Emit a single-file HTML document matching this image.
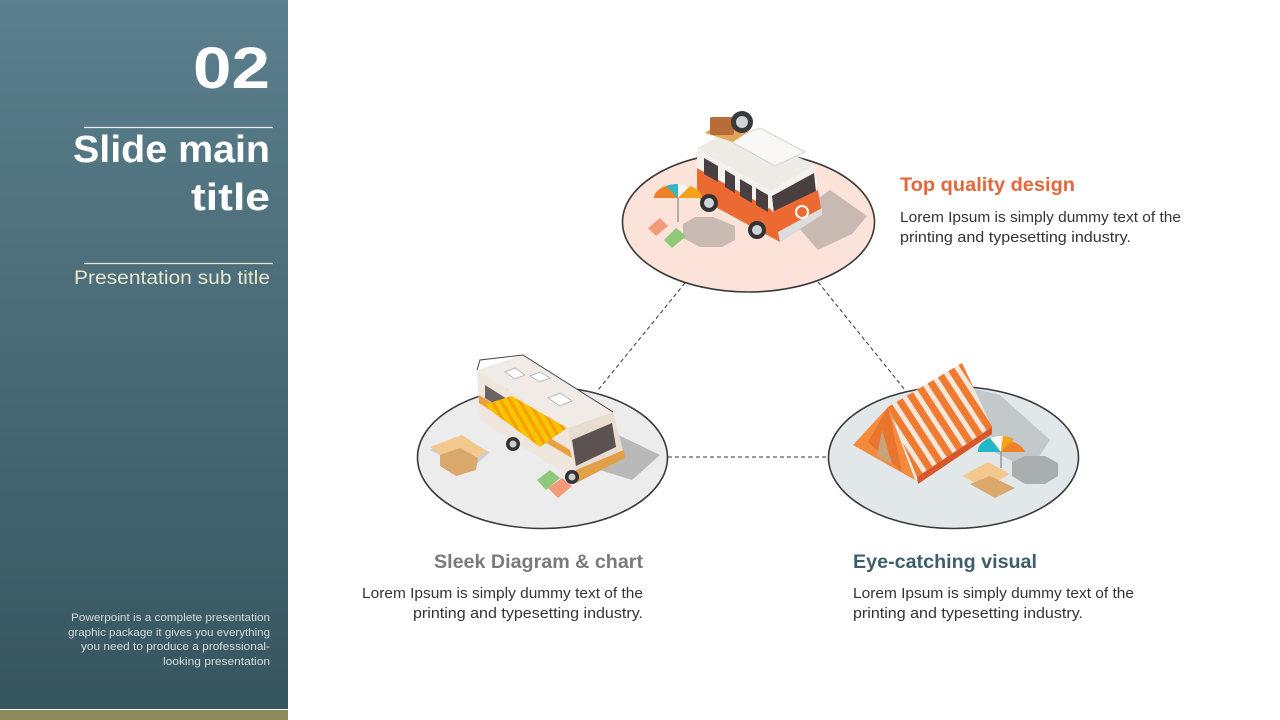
<!DOCTYPE html>
<html><head><meta charset="utf-8"><style>
html,body{margin:0;padding:0;background:#fff;}
body{width:1280px;height:720px;overflow:hidden;position:relative;font-family:"Liberation Sans",sans-serif;}
svg{position:absolute;left:0;top:0;}
</style></head><body>
<svg width="1280" height="720" viewBox="0 0 1280 720" xmlns="http://www.w3.org/2000/svg">
<defs>
<linearGradient id="pg" x1="0" y1="0" x2="0" y2="1">
<stop offset="0" stop-color="#5b7f8d"/><stop offset="1" stop-color="#36555f"/>
</linearGradient>
<pattern id="tstr" patternUnits="userSpaceOnUse" width="12" height="12" patternTransform="rotate(-33)">
<rect width="12" height="12" fill="#ef7a30"/><rect width="5" height="12" fill="#f3e6da"/>
</pattern>
<pattern id="astr" patternUnits="userSpaceOnUse" width="8" height="8" patternTransform="rotate(-30)">
<rect width="8" height="8" fill="#f8c400"/><rect width="3" height="8" fill="#f5a000"/>
</pattern>
</defs>
<!-- left panel -->
<rect x="0" y="0" width="288" height="709" fill="url(#pg)"/>
<rect x="0" y="710" width="288" height="10" fill="#8c8a5c"/>
<g fill="#fff" font-family="Liberation Sans, sans-serif" font-weight="bold" text-anchor="end">
<text x="270" y="88" font-size="58" textLength="77" lengthAdjust="spacingAndGlyphs">02</text>
<text x="270" y="162" font-size="38" textLength="197" lengthAdjust="spacingAndGlyphs">Slide main</text>
<text x="270" y="210" font-size="38" textLength="79" lengthAdjust="spacingAndGlyphs">title</text>
</g>
<line x1="84" y1="127.5" x2="273" y2="127.5" stroke="#e8ecea" stroke-width="1.2"/>
<line x1="84" y1="263.5" x2="273" y2="263.5" stroke="#e8e6cf" stroke-width="1.2"/>
<text x="270" y="284" font-size="19" fill="#e8e6cf" text-anchor="end" textLength="196" lengthAdjust="spacingAndGlyphs">Presentation sub title</text>
<g fill="#d6dcdc" font-size="11" text-anchor="end">
<text x="270" y="621" textLength="199" lengthAdjust="spacingAndGlyphs">Powerpoint is a complete presentation</text>
<text x="270" y="636" textLength="202" lengthAdjust="spacingAndGlyphs">graphic package it gives you everything</text>
<text x="270" y="650" textLength="189" lengthAdjust="spacingAndGlyphs">you need to produce a professional-</text>
<text x="270" y="665" textLength="107" lengthAdjust="spacingAndGlyphs">looking presentation</text>
</g>

<!-- connectors -->
<g stroke="#333" stroke-width="1" stroke-dasharray="4,3" fill="none">
<line x1="685" y1="283" x2="598" y2="390"/>
<line x1="818" y1="282" x2="905" y2="390"/>
<line x1="668" y1="457" x2="828" y2="457"/>
</g>

<!-- ellipses -->
<ellipse cx="748.5" cy="222" rx="126" ry="70" fill="#fce3da" stroke="#3a3a3a" stroke-width="1.6"/>
<ellipse cx="542.5" cy="457.5" rx="125" ry="71" fill="#ececec" stroke="#3a3a3a" stroke-width="1.6"/>
<ellipse cx="953.5" cy="457.5" rx="125" ry="71" fill="#e2e7ea" stroke="#3a3a3a" stroke-width="1.6"/>

<!-- VAN -->
<g>
<polygon points="683,224 695,217 713,217 735,226 735,240 722,247 700,247 683,238" fill="#c9bab3"/>
<polygon points="790,218 830,190 867,216 852,234 818,250" fill="#c8bab3"/>
<!-- side -->
<polygon points="697,148 770,190 772,210 697,168" fill="#f4f1ec"/>
<polygon points="697,168 772,210 780,242 697,197" fill="#ec6a32"/>
<polygon points="704,158 718,166 718,182 704,174" fill="#4a3f40"/>
<polygon points="725,170 735,176 735,193 725,187" fill="#4a3f40"/>
<polygon points="740,179 752,186 752,203 740,196" fill="#4a3f40"/>
<polygon points="756,188 768,195 768,212 756,205" fill="#4a3f40"/>
<!-- front -->
<polygon points="770,190 815,165 818,190 772,212" fill="#f4f1ec"/>
<polygon points="772,196 814,173 816,192 774,214" fill="#4a3f40"/>
<polygon points="772,212 818,190 822,215 780,242" fill="#ec6a32"/>
<polygon points="778,232 822,208 822,215 780,242" fill="#ddd"/>
<circle cx="802" cy="212" r="6" fill="none" stroke="#fff" stroke-width="2"/>
<!-- roof -->
<polygon points="697,148 735,128 815,165 770,190" fill="#eeeae5"/>
<polygon points="728,140 760,128 805,152 775,166" fill="#f9f8f6" stroke="#d6d2cc" stroke-width="1"/>
<!-- wheels -->
<circle cx="709" cy="203" r="9" fill="#333"/><circle cx="709" cy="203" r="5" fill="#cfd3d6"/>
<circle cx="757" cy="230" r="9" fill="#333"/><circle cx="757" cy="230" r="5" fill="#cfd3d6"/>
<!-- luggage -->
<polygon points="705,133 720,122 748,132 733,142" fill="#e2a658"/>
<rect x="710" y="117" width="24" height="18" rx="2" fill="#b86c38"/>
<circle cx="742" cy="122" r="11" fill="#3a3a3a"/><circle cx="742" cy="122" r="6" fill="#d0d3d6"/>
<!-- umbrella -->
<path d="M654,198 A24,14 0 0 1 702,198 Z" fill="#f4a21a"/>
<path d="M654,198 A24,14 0 0 1 666,186 L678,198 Z" fill="#f08028"/>
<path d="M666,186 A24,14 0 0 1 678,184 L678,198 Z" fill="#2fb8c8"/>
<path d="M678,184 A24,14 0 0 1 690,186 L678,198 Z" fill="#f8f4ee"/>
<line x1="678" y1="198" x2="678" y2="222" stroke="#999" stroke-width="1.5"/>
<polygon points="648,228 660,218 668,226 656,236" fill="#f29a7a"/>
<polygon points="664,240 676,228 686,236 672,248" fill="#8ec87a"/>
</g>

<!-- RV -->
<g>
<polygon points="612,432 660,455 632,480 600,470" fill="#b9b9b9"/>
<polygon points="430,450 455,437 490,452 470,470" fill="#bdbdbd" opacity="0.6"/>
<!-- side -->
<polygon points="477,370 568,428 578,482 480,420" fill="#efe6de"/>
<polygon points="479,395 570,450 572,458 479,403" fill="#e8a040"/>
<polygon points="485,385 520,407 520,420 485,398" fill="#6d6262"/>
<!-- front -->
<polygon points="568,428 613,412 625,458 578,482" fill="#e9ddd2"/>
<polygon points="572,440 612,423 616,447 576,466" fill="#5d5252"/>
<polygon points="576,470 624,450 625,458 578,482" fill="#e0a048"/>
<!-- roof -->
<polygon points="477,370 523,355 613,412 568,428" fill="#f0ebe6"/>
<polygon points="505,372 515,368 525,375 515,379" fill="#fff" stroke="#bbb"/>
<polygon points="548,398 560,393 572,401 560,406" fill="#fff" stroke="#bbb"/>
<polygon points="530,376 540,372 550,378 540,382" fill="#fff" stroke="#bbb"/>
<polyline points="477,370 480,360 523,355 613,412" fill="none" stroke="#444" stroke-width="1"/>
<!-- awning -->
<polygon points="483,405 512,396 567,428 540,447" fill="url(#astr)"/>
<!-- wheels -->
<circle cx="513" cy="444" r="7" fill="#333"/><circle cx="513" cy="444" r="3.5" fill="#ccc"/>
<circle cx="572" cy="477" r="7" fill="#333"/><circle cx="572" cy="477" r="3.5" fill="#ccc"/>
<!-- table -->
<polygon points="430,447 462,435 488,452 458,465" fill="#f2c88e"/>
<polygon points="440,455 460,448 478,458 476,470 456,476 440,466" fill="#d9a86a"/>
<!-- chairs -->
<polygon points="537,480 550,470 560,478 546,490" fill="#8ec87a"/>
<polygon points="548,488 562,478 572,486 558,498" fill="#f29a7a"/>
</g>

<!-- TENT -->
<g>
<polygon points="960,385 1000,395 1050,440 1030,470 990,450" fill="#c3c8ca"/>
<polygon points="1012,462 1025,456 1045,456 1058,463 1058,476 1045,484 1025,484 1012,476" fill="#a9aeb0"/>
<!-- front face -->
<polygon points="888,407 853,445 915,480" fill="#f58a3a"/>
<polygon points="888,407 868,442 902,472" fill="#e8742e"/>
<polygon points="882,430 877,456 892,464" fill="#c9a27a"/>
<!-- roof -->
<polygon points="888,407 962,363 992,427 917,477" fill="url(#tstr)"/>
<polygon points="917,477 992,427 992,434 918,484" fill="#d6582a"/>
<!-- umbrella -->
<path d="M978,452 A24,15 0 0 1 1025,452 Z" fill="#f08028"/>
<path d="M978,452 A24,15 0 0 1 990,438 L1001,452 Z" fill="#22b8c8"/>
<path d="M990,438 A24,15 0 0 1 1003,436 L1001,452 Z" fill="#f8f4ee"/>
<path d="M1003,436 A24,15 0 0 1 1014,439 L1001,452 Z" fill="#f4a21a"/>
<line x1="1001" y1="452" x2="1001" y2="468" stroke="#999" stroke-width="1.5"/>
<!-- table -->
<polygon points="962,476 988,462 1010,474 985,488" fill="#f2c88e"/>
<polygon points="970,484 990,476 1015,488 995,498" fill="#d9a86a"/>
</g>

<!-- texts -->
<g font-family="Liberation Sans, sans-serif">
<text x="900" y="191" font-size="19" font-weight="bold" fill="#e4663a" textLength="175" lengthAdjust="spacingAndGlyphs">Top quality design</text>
<text x="900" y="222" font-size="15" fill="#333" textLength="281" lengthAdjust="spacingAndGlyphs">Lorem Ipsum is simply dummy text of the</text>
<text x="900" y="242" font-size="15" fill="#333" textLength="231" lengthAdjust="spacingAndGlyphs">printing and typesetting industry.</text>

<text x="643" y="568" font-size="19" font-weight="bold" fill="#7a7a7a" text-anchor="end" textLength="209" lengthAdjust="spacingAndGlyphs">Sleek Diagram &amp; chart</text>
<text x="643" y="598" font-size="15" fill="#333" text-anchor="end" textLength="281" lengthAdjust="spacingAndGlyphs">Lorem Ipsum is simply dummy text of the</text>
<text x="643" y="618" font-size="15" fill="#333" text-anchor="end" textLength="230" lengthAdjust="spacingAndGlyphs">printing and typesetting industry.</text>

<text x="853" y="568" font-size="19" font-weight="bold" fill="#3e5f6a" textLength="184" lengthAdjust="spacingAndGlyphs">Eye-catching visual</text>
<text x="853" y="598" font-size="15" fill="#333" textLength="281" lengthAdjust="spacingAndGlyphs">Lorem Ipsum is simply dummy text of the</text>
<text x="853" y="618" font-size="15" fill="#333" textLength="230" lengthAdjust="spacingAndGlyphs">printing and typesetting industry.</text>
</g>
</svg>
</body></html>
